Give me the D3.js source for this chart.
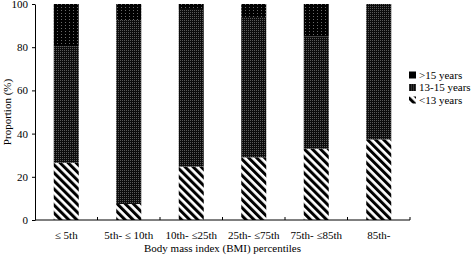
<!DOCTYPE html>
<html>
<head>
<meta charset="utf-8">
<script src="https://cdn.jsdelivr.net/npm/d3@7"></script>
<style>
  body { margin: 0; background: #fff; }
  svg { display: block; font-family: "Liberation Serif", "DejaVu Serif", serif; }
</style>
</head>
<body>
<div id="chart"></div>
<script>
/* Stacked proportion bars by BMI percentile */

// data (percent)
const categories = ["≤ 5th", "5th- ≤ 10th", "10th- ≤25th", "25th- ≤75th", "75th- ≤85th", "85th-"];
const under13 = [26.5, 7.4, 24.7, 29, 33, 37.3];
const age13to15 = [54, 85.2, 73, 65, 51.9, 62.7];
const over15 = [19.5, 7.4, 2.3, 6, 15.1, 0];
const seriesNames = ["<13 years", "13-15 years", ">15 years"];
const yTicks = [0, 20, 40, 60, 80, 100];

const width = 471,
      height = 256,
      margin = ({ top: 4, right: 61, bottom: 36, left: 35 });

// build table for d3.stack
const table = categories.map((c, i) => ({
    cat: c,
    "<13 years": under13[i],
    "13-15 years": age13to15[i],
    ">15 years": over15[i]
}));

let svg = d3.select("#chart")
    .append("svg")
    .attr("width", width)
    .attr("height", height);

//fill patterns
let defs = svg.append("defs");

let pOver = defs.append("pattern")
    .attr("id", "p-over")
    .attr("patternUnits", "userSpaceOnUse")
    .attr("width", 4).attr("height", 3);
pOver.append("rect").attr("width", 4).attr("height", 3).attr("fill", "#000");
pOver.append("rect").attr("x", 1).attr("y", 1).attr("width", 1).attr("height", 1).attr("fill", "#6a6a6a");

let pMid = defs.append("pattern")
    .attr("id", "p-mid")
    .attr("patternUnits", "userSpaceOnUse")
    .attr("width", 2).attr("height", 2);
pMid.append("rect").attr("width", 2).attr("height", 2).attr("fill", "#0c0c0c");
pMid.append("rect").attr("x", 0).attr("y", 0).attr("width", 1).attr("height", 1).attr("fill", "#5a5a5a");

let pUnder = defs.append("pattern")
    .attr("id", "p-under")
    .attr("patternUnits", "userSpaceOnUse")
    .attr("width", 5.7).attr("height", 10)
    .attr("patternTransform", "rotate(-45)");
pUnder.append("rect").attr("width", 5.7).attr("height", 10).attr("fill", "#fff");
pUnder.append("rect").attr("width", 3).attr("height", 10).attr("fill", "#000");

const fills = { "<13 years": "url(#p-under)", "13-15 years": "url(#p-mid)", ">15 years": "url(#p-over)" };

let x = d3.scaleBand()
    .domain(categories)
    .range([margin.left, width - margin.right])
    .paddingInner(0.6)
    .paddingOuter(0.3);

let y = d3.scaleLinear()
    .domain([0, 100])
    .range([height - margin.bottom, margin.top]);

const stacked = d3.stack().keys(seriesNames)(table);

//bars
svg.selectAll(".layer")
    .data(stacked)
    .join("g")
    .attr("class", "layer")
    .attr("fill", d => fills[d.key])
    .selectAll("rect")
    .data(d => d)
    .join("rect")
    .attr("x", d => x(d.data.cat))
    .attr("width", x.bandwidth())
    .attr("y", d => y(d[1]))
    .attr("height", d => y(d[0]) - y(d[1]));

//x axis with ticks between categories
let xAxis = svg.append("g")
    .attr("transform", `translate(0,${y(0)})`)
    .call(d3.axisBottom(x).tickSize(0).tickPadding(11));
xAxis.select(".domain").remove();
xAxis.append("line")
    .attr("x1", margin.left).attr("x2", width - margin.right)
    .attr("stroke", "#000");
xAxis.selectAll(".bound")
    .data(categories.slice(1).map(c => x(c) - (x.step() - x.bandwidth()) / 2).concat([width - margin.right]))
    .join("line")
    .attr("class", "bound")
    .attr("x1", d => d).attr("x2", d => d)
    .attr("y1", 0).attr("y2", -3)
    .attr("stroke", "#000");
xAxis.selectAll(".tick text")
    .attr("font-family", "Liberation Serif")
    .attr("font-size", 11)
    .attr("fill", "#000");

//y axis
let yAxis = svg.append("g")
    .attr("transform", `translate(${margin.left},0)`)
    .call(d3.axisLeft(y).tickValues(yTicks).tickSize(3).tickSizeOuter(0).tickPadding(4));
yAxis.selectAll(".tick text")
    .attr("font-family", "Liberation Serif")
    .attr("font-size", 11)
    .attr("fill", "#000");

//axis titles
svg.append("text")
    .attr("x", (margin.left + width - margin.right) / 2)
    .attr("y", 252)
    .attr("text-anchor", "middle")
    .attr("font-size", 11)
    .text("Body mass index (BMI) percentiles");

svg.append("text")
    .attr("transform", `translate(11,${y(50)}) rotate(-90)`)
    .attr("text-anchor", "middle")
    .attr("font-size", 11)
    .text("Proportion (%)");

//legend
const legendItems = [">15 years", "13-15 years", "<13 years"];
let legend = svg.selectAll(".legend")
    .data(legendItems)
    .join("g")
    .attr("class", "legend")
    .attr("transform", (d, i) => `translate(409,${75 + i * 12.5})`);
legend.append("rect")
    .attr("y", -3.5)
    .attr("width", 7).attr("height", 7)
    .attr("fill", d => d === ">15 years" ? "#000" : fills[d]);
legend.append("text")
    .attr("x", 10)
    .attr("dy", "0.35em")
    .attr("font-size", 11)
    .text(d => d);
</script>
</body>
</html>
